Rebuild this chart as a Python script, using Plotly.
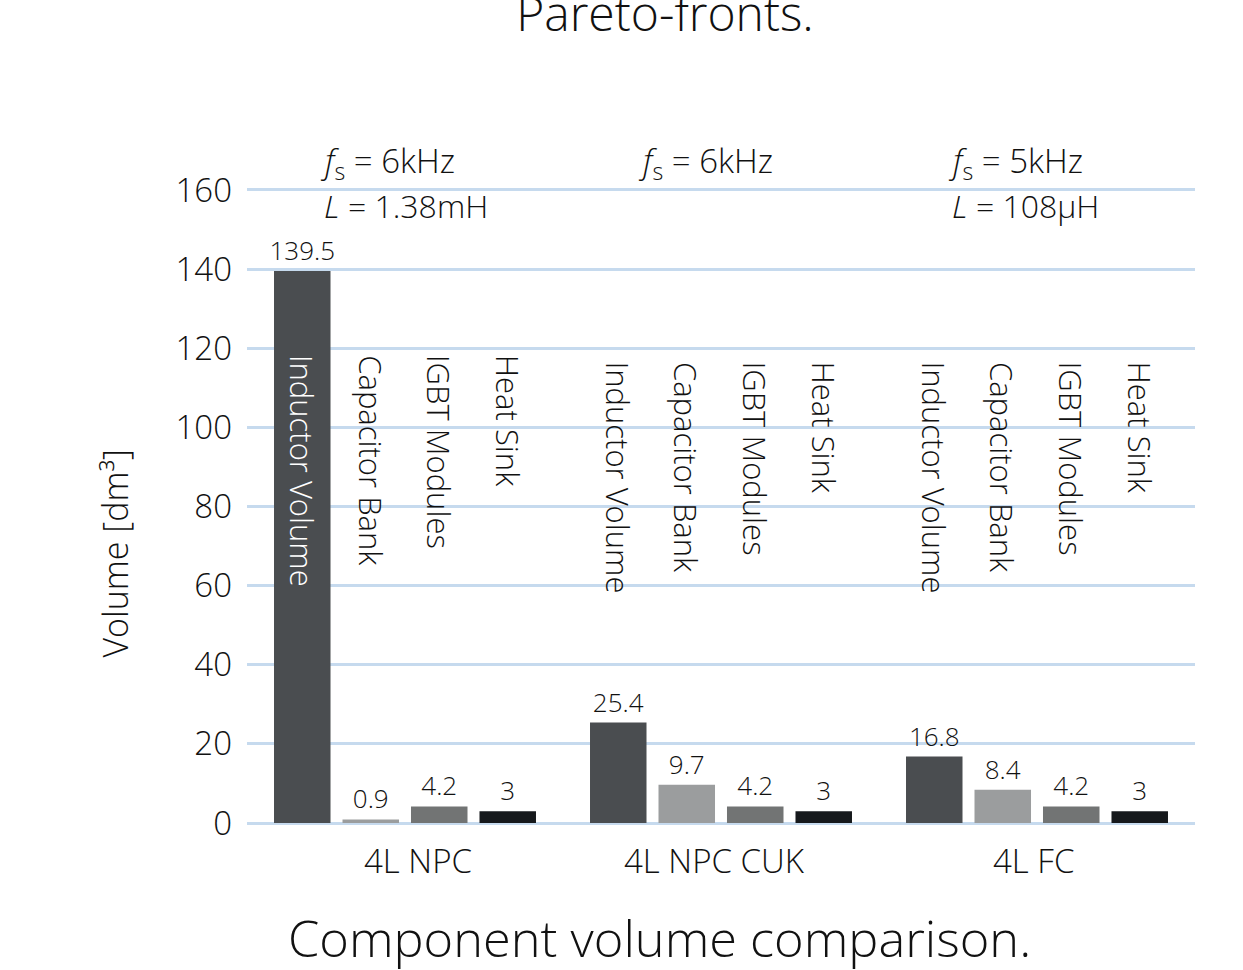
import plotly.graph_objects as go

categories = ["4L NPC", "4L NPC CUK", "4L FC"]
inductor = [139.5, 25.4, 16.8]
capacitor = [0.9, 9.7, 8.4]
igbt = [4.2, 4.2, 4.2]
heatsink = [3, 3, 3]
series_names = ["Inductor Volume", "Capacitor Bank", "IGBT Modules", "Heat Sink"]
series_values = [inductor, capacitor, igbt, heatsink]
series_colors = ["#4a4d50", "#9b9d9e", "#727474", "#16191c"]
value_texts = [["139.5", "25.4", "16.8"], ["0.9", "9.7", "8.4"], ["4.2", "4.2", "4.2"], ["3", "3", "3"]]
y_ticks = [0, 20, 40, 60, 80, 100, 120, 140, 160]
fs_labels = ["<i>f</i><sub>s</sub> = 6kHz", "<i>f</i><sub>s</sub> = 6kHz", "<i>f</i><sub>s</sub> = 5kHz"]
l_labels = ["<i>L</i> = 1.38mH", "", "<i>L</i> = 108μH"]

FONT = "Open Sans"
W = 300
fig = go.Figure()
for name, vals, col, txt in zip(series_names, series_values, series_colors, value_texts):
    fig.add_trace(go.Bar(
        x=categories, y=vals, name=name, marker=dict(color=col, line=dict(width=0)),
        text=txt, textposition="outside", texttemplate="%{text}", constraintext="none",
        textfont=dict(family=FONT, size=26, color="#111", weight=W), cliponaxis=False,
    ))

bargap = 0.133
slot = (1 - bargap) / 4
offsets = [(-1.5 + i) * slot for i in range(4)]

annotations = []
for ci in range(3):
    for si, name in enumerate(series_names):
        inside = (ci == 0 and si == 0)
        annotations.append(dict(
            x=ci + offsets[si], y=118.8 if ci == 0 else 117.1, xref="x", yref="y",
            text=name, textangle=90, showarrow=False, xanchor="center", yanchor="top",
            font=dict(family=FONT, size=31, color="#ffffff" if inside else "#111111", weight=W),
        ))
fs_x = [-0.275, -0.269, -0.288]
l_x = [-0.263, None, -0.276]
for ci in range(3):
    annotations.append(dict(x=ci + fs_x[ci], y=1.036, xref="x", yref="paper", text=fs_labels[ci],
                            showarrow=False, xanchor="left", yanchor="middle",
                            font=dict(family=FONT, size=33, color="#111", weight=W)))
    if l_labels[ci]:
        annotations.append(dict(x=ci + l_x[ci], y=0.97, xref="x", yref="paper", text=l_labels[ci],
                                showarrow=False, xanchor="left", yanchor="middle",
                                font=dict(family=FONT, size=32, color="#111", weight=W)))

cat_shift = [0.04, -0.02, -0.01]
for ci, cat in enumerate(categories):
    annotations.append(dict(x=ci + cat_shift[ci], y=-0.053, xref="x", yref="paper", text=cat,
                            showarrow=False, xanchor="center", yanchor="middle",
                            font=dict(family=FONT, size=33, color="#111", weight=W)))

annotations.append(dict(x=0.435, y=-0.173, xref="paper", yref="paper", text="Component volume comparison.",
                        showarrow=False, xanchor="center", yanchor="middle",
                        font=dict(family=FONT, size=50.5, color="#111", weight=W)))
annotations.append(dict(x=-0.139, y=0.427, xref="paper", yref="paper", text="Volume [dm³]",
                        showarrow=False, xanchor="center", yanchor="middle", textangle=-90,
                        font=dict(family=FONT, size=34, color="#111", weight=W)))

fig.update_layout(
    width=1243, height=970, plot_bgcolor="white", paper_bgcolor="white",
    margin=dict(l=247, r=48, t=186, b=143),
    barmode="group", bargap=bargap, bargroupgap=0.175, showlegend=False,
    annotations=annotations,
    title=dict(text="Pareto-fronts.", x=0.535, xanchor="center", y=0.985, yanchor="middle",
               font=dict(family=FONT, size=48, color="#111", weight=W)),
    xaxis=dict(showticklabels=False, showgrid=False, showline=False, ticks=""),
    yaxis=dict(range=[-1, 161], tickvals=y_ticks, tickfont=dict(family=FONT, size=33, color="#111", weight=W),
               showgrid=True, gridcolor="#c6daee", gridwidth=3, zeroline=True, zerolinecolor="#c6daee",
               zerolinewidth=3, ticks="", ticklabelstandoff=14),
)
fig.write_html("out.html")
